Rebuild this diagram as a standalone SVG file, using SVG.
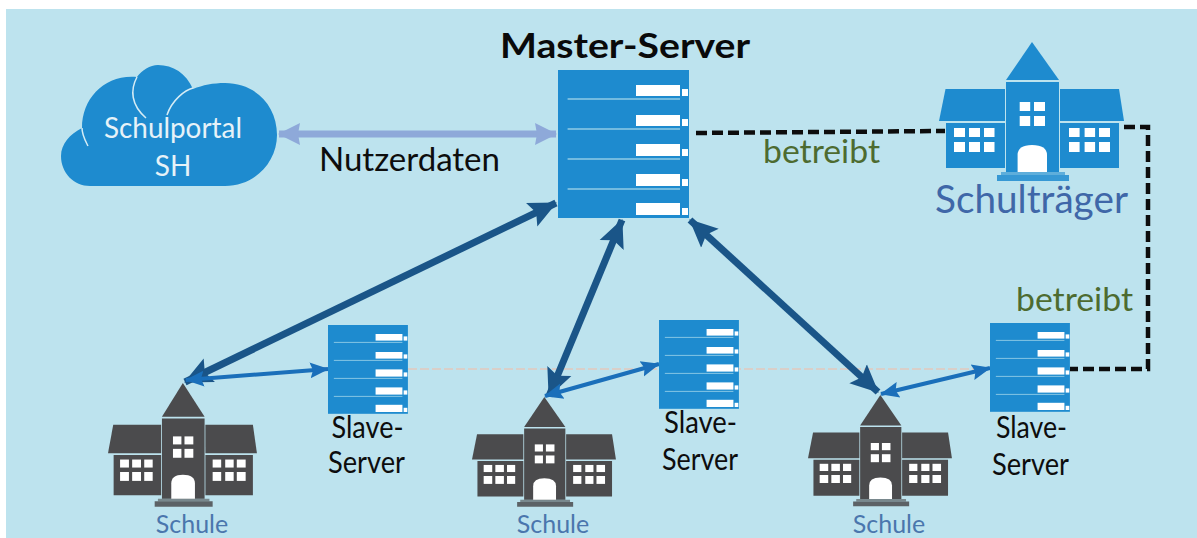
<svg xmlns="http://www.w3.org/2000/svg" width="1197" height="538" viewBox="0 0 1197 538">
<style>
text{font-family:Lato,"Liberation Sans",sans-serif;text-anchor:middle}
.lbl{font-size:30px;fill:#0d0d0d}
.nz{font-size:32px;fill:#0d0d0d}
.grn{font-size:32px;fill:#4d6b30}
.sch{font-size:25px;fill:#4a76ad}
.wht{font-size:28px;fill:#e6f2f8}
.dark{fill:none;stroke:#1a5588;stroke-width:7}
.mid{fill:none;stroke:#1a6fba;stroke-width:4}
.lite{fill:none;stroke:#8ea9d9;stroke-width:7}
.dash{fill:none;stroke:#0d0d0d;stroke-width:4.500;stroke-dasharray:11 5}
.gray{fill:#4b4b4d}
.blue{fill:#1e8bcf}
</style>
<defs>
<marker id="hd" markerUnits="userSpaceOnUse" markerWidth="30" markerHeight="30" refX="27" refY="15" orient="auto-start-reverse"><path d="M0 2L28 15L0 28L5 15Z" fill="#1a5588"/></marker>
<marker id="hm" markerUnits="userSpaceOnUse" markerWidth="20" markerHeight="20" refX="18" refY="10" orient="auto-start-reverse"><path d="M0 2L19 10L0 18L3 10Z" fill="#1a6fba"/></marker>
<marker id="hl" markerUnits="userSpaceOnUse" markerWidth="24" markerHeight="24" refX="21" refY="12" orient="auto-start-reverse"><path d="M0 1L22 12L0 23L2 12Z" fill="#8ea9d9"/></marker>
<g id="school">
<path d="M93 0L120 38H67Z"/>
<path d="M67 40H120V130H67Z"/>
<path d="M6.500 47H66V79H0Z"/>
<path d="M121 47H180L185 79H121Z"/>
<path d="M7 81H66V126H7Z"/>
<path d="M121 81H180V126H121Z"/>
<path d="M58 133H130V139H58Z" opacity=".85"/>
<path d="M62 130H126V133H62Z" opacity=".6"/>
<g fill="#fff">
<path d="M78.600 130V113Q78.600 103 93 103Q108 103 108 113V130Z"/>
<rect x="80.700" y="60" width="10.500" height="9"/><rect x="95" y="60" width="11" height="9"/>
<rect x="80.700" y="74" width="10.500" height="10"/><rect x="95" y="74" width="11" height="10"/>
<rect x="15" y="86" width="11" height="9"/><rect x="30" y="86" width="11" height="9"/><rect x="45" y="86" width="10.500" height="9"/>
<rect x="15" y="100" width="11" height="10"/><rect x="30" y="100" width="11" height="10"/><rect x="45" y="100" width="10.500" height="10"/>
<rect x="130" y="86" width="10.600" height="9"/><rect x="145.600" y="86" width="10.500" height="9"/><rect x="160" y="86" width="11" height="9"/>
<rect x="130" y="100" width="10.600" height="10"/><rect x="145.600" y="100" width="10.500" height="10"/><rect x="160" y="100" width="11" height="10"/>
</g>
</g>
<g id="server">
<rect width="131" height="148" fill="#1e8bcf"/>
<path d="M9.600 29H122M9.600 59H122M9.600 89H122M9.600 119H122" stroke="#8fcbe6" stroke-width="1.500" fill="none"/>
<g fill="#fff">
<rect x="78" y="15" width="44" height="11"/><rect x="124" y="19" width="6" height="7"/>
<rect x="78" y="45" width="44" height="11"/><rect x="124" y="49" width="6" height="7"/>
<rect x="78" y="74" width="44" height="12"/><rect x="124" y="79" width="6" height="7"/>
<rect x="78" y="104" width="44" height="12"/><rect x="124" y="109" width="6" height="7"/>
<rect x="78" y="133" width="44" height="12"/><rect x="124" y="138" width="6" height="7"/>
</g>
</g>
</defs>
<rect width="1197" height="538" fill="#fff"/>
<rect x="6" y="9" width="1191" height="529" fill="#bde3ee"/>

<g id="connectors">
<path d="M408 369H990" fill="none" stroke="#d9cfc9" stroke-width="2" stroke-dasharray="9 3"/>
<path class="lite" d="M279 134H556" marker-start="url(#hl)" marker-end="url(#hl)"/>
<path class="dark" d="M556 203L185 382" marker-start="url(#hd)" marker-end="url(#hd)"/>
<path class="dark" d="M622 220L549 396" marker-start="url(#hd)" marker-end="url(#hd)"/>
<path class="dark" d="M690 220L878 392" marker-start="url(#hd)" marker-end="url(#hd)"/>
<path class="mid" d="M186 380L328 369" marker-start="url(#hm)" marker-end="url(#hm)"/>
<path class="mid" d="M545 396L659 364" marker-start="url(#hm)" marker-end="url(#hm)"/>
<path class="mid" d="M881 394L990 368" marker-start="url(#hm)" marker-end="url(#hm)"/>
<path class="dash" d="M696 133L945 131"/>
<path class="dash" d="M1124 127H1148V369H1070"/>
</g>

<g id="cloud">
<path class="blue" d="M90 186H225C255 186 277 162 277 135C277 105 255 83 225 83C213 83 203 85 193 89C186 73 173 65 158 65C150 65 142 70 137 77C105 74 82 98 82 128C70 134 61 144 61 156C61 173 74 186 90 186Z"/>
<path d="M137 77C130 90 131 105 146 118M167 115C172 100 185 90 193 88M82 128C82 135 85 140 88 146" fill="none" stroke="#d5ecf5" stroke-width="1.500"/>
<text class="wht" x="173" y="138" textLength="138" lengthAdjust="spacingAndGlyphs">Schulportal</text>
<text class="wht" x="173" y="176">SH</text>
</g>

<g id="master"><text x="625" y="58" font-size="35" font-weight="700" fill="#0a0a0a" textLength="250" lengthAdjust="spacingAndGlyphs">Master-Server</text>
<use href="#server" x="558" y="70"/></g>
<g id="traeger"><use href="#school" class="blue" transform="translate(939 42)"/>
<text x="1031.500" y="213" font-size="38" fill="#3f67a8" textLength="193" lengthAdjust="spacingAndGlyphs">Schulträger</text></g>
<g id="slave1"><use href="#server" transform="translate(328 325) scale(.61 .6)"/>
<text class="lbl" x="367.500" y="438" textLength="72" lengthAdjust="spacingAndGlyphs">Slave-</text><text class="lbl" x="366.500" y="473" textLength="77" lengthAdjust="spacingAndGlyphs">Server</text></g>
<g id="slave2"><use href="#server" transform="translate(659 320) scale(.61 .6)"/>
<text class="lbl" x="700.500" y="433" textLength="73" lengthAdjust="spacingAndGlyphs">Slave-</text><text class="lbl" x="700" y="470" textLength="76" lengthAdjust="spacingAndGlyphs">Server</text></g>
<g id="slave3"><use href="#server" transform="translate(990 323) scale(.61 .6)"/>
<text class="lbl" x="1031.500" y="438" textLength="71" lengthAdjust="spacingAndGlyphs">Slave-</text><text class="lbl" x="1030.500" y="475" textLength="77" lengthAdjust="spacingAndGlyphs">Server</text></g>
<g id="schule1"><use href="#school" class="gray" transform="translate(108 383) scale(.805 .89)"/>
<text class="sch" x="192" y="533">Schule</text></g>
<g id="schule2"><use href="#school" class="gray" transform="translate(472 397) scale(.778 .79)"/>
<text class="sch" x="553" y="533">Schule</text></g>
<g id="schule3"><use href="#school" class="gray" transform="translate(808 395) scale(.778 .8)"/>
<text class="sch" x="889" y="533">Schule</text></g>
<text class="nz" x="409.500" y="171" textLength="181" lengthAdjust="spacingAndGlyphs">Nutzerdaten</text>
<text class="grn" x="821.500" y="163" textLength="117" lengthAdjust="spacingAndGlyphs">betreibt</text>
<text class="grn" x="1074.500" y="311" textLength="117" lengthAdjust="spacingAndGlyphs">betreibt</text>
</svg>
